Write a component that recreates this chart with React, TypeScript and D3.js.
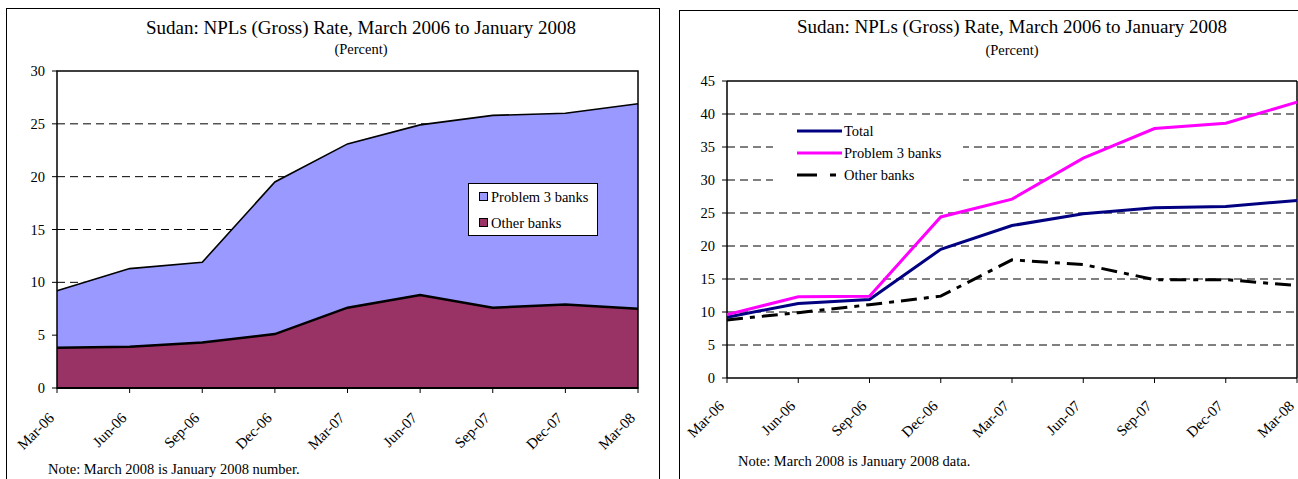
import React from "react";
import * as d3 from "d3";

// quarters on the x axis
const categories = ["Mar-06", "Jun-06", "Sep-06", "Dec-06", "Mar-07", "Jun-07", "Sep-07", "Dec-07", "Mar-08"];
// NPL rate, whole system
const totalRate = [9.2, 11.3, 11.9, 19.5, 23.1, 24.9, 25.8, 26.0, 26.9];
// left chart: contribution of the other banks to the total
const otherBanksShare = [3.8, 3.9, 4.3, 5.1, 7.6, 8.8, 7.6, 7.9, 7.5];
// right chart: own NPL rates of each group
const problem3Rate = [9.6, 12.3, 12.4, 24.4, 27.1, 33.3, 37.8, 38.6, 41.8];
const otherBanksRate = [8.8, 9.9, 11.1, 12.4, 17.9, 17.2, 14.9, 14.9, 14.0];

const leftTicks = [0, 5, 10, 15, 20, 25, 30];
const rightTicks = [0, 5, 10, 15, 20, 25, 30, 35, 40, 45];

const font = "'Liberation Serif', 'Times New Roman', serif";
const title = "Sudan: NPLs (Gross) Rate, March 2006 to January 2008";

const stackRows = categories.map((c, i) => ({
 cat: c,
 other: otherBanksShare[i],
 problem: totalRate[i] - otherBanksShare[i],
}));

const XLabels = ({ x, y, off }: { x: d3.ScalePoint<string>; y: number; off: number }) => (
 <g fontSize={15}>
  {categories.map((c) => (
   <g key={c}>
    <line x1={x(c)} x2={x(c)} y1={y} y2={y + 5} stroke="#000" />
    <text transform={`translate(${(x(c) as number) - 2},${y + off}) rotate(-45)`} textAnchor="end">
     {c}
    </text>
   </g>
  ))}
 </g>
);

const YLabels = ({ y, x, ticks }: { y: d3.ScaleLinear<number, number>; x: number; ticks: number[] }) => (
 <g fontSize={14.5}>
  {ticks.map((t) => (
   <g key={t}>
    <line x1={x - 5} x2={x} y1={y(t)} y2={y(t)} stroke="#000" />
    <text x={x - 12} y={y(t)} dy="0.35em" textAnchor="end">
     {t}
    </text>
   </g>
  ))}
 </g>
);

const LeftChart = () => {
 const x = d3.scalePoint<string>().domain(categories).range([57, 638]);
 const y = d3.scaleLinear().domain([0, 30]).range([388, 71]);
 const series = d3.stack<any>().keys(["other", "problem"])(stackRows);
 const area = d3
  .area<any>()
  .x((d) => x(d.data.cat) as number)
  .y0((d) => y(d[0]))
  .y1((d) => y(d[1]));
 const top = d3
  .line<any>()
  .x((d) => x(d.data.cat) as number)
  .y((d) => y(d[1]));
 const fills = ["#993366", "#9999FF"];
 const widths = [2.5, 1.6];

 return (
  <g>
   <rect x={6.5} y={8.5} width={653} height={490} fill="#fff" stroke="#000" />
   <text x={361} y={34} textAnchor="middle" fontSize={19}>{title}</text>
   <text x={361} y={54} textAnchor="middle" fontSize={14.5}>(Percent)</text>
   {leftTicks.filter((t) => t > 0 && t < 30).map((t) => (
    <line key={t} x1={57} x2={638} y1={y(t)} y2={y(t)} stroke="#000" strokeDasharray="8,5" />
   ))}
   {series.map((s, i) => (
    <path key={s.key} d={area(s) as string} fill={fills[i]} />
   ))}
   {series.map((s, i) => (
    <path key={s.key} d={top(s) as string} fill="none" stroke="#000" strokeWidth={widths[i]} />
   ))}
   <rect x={57} y={71} width={581} height={317} fill="none" stroke="#000" strokeWidth={1.5} />
   <line x1={57} x2={638} y1={388} y2={388} stroke="#000" strokeWidth={2} />
   <YLabels y={y} x={57} ticks={leftTicks} />
   <XLabels x={x} y={388} off={31} />
   <g fontSize={14.5}>
    <rect x={468.5} y={183.5} width={129} height={52} fill="#fff" stroke="#000" />
    <rect x={479.5} y={192.5} width={8} height={8} fill="#9999FF" stroke="#000" />
    <text x={491} y={197} dy="0.35em">Problem 3 banks</text>
    <rect x={479.5} y={218.5} width={8} height={8} fill="#993366" stroke="#000" />
    <text x={491} y={223} dy="0.35em">Other banks</text>
   </g>
   <text x={48} y={474} fontSize={14.5}>Note: March 2008 is January 2008 number.</text>
  </g>
 );
};

const RightChart = () => {
 const x = d3.scalePoint<string>().domain(categories).range([727, 1297]);
 const y = d3.scaleLinear().domain([0, 45]).range([378, 81]);
 const line = d3
  .line<number>()
  .x((_, i) => x(categories[i]) as number)
  .y((d) => y(d));
 const lines = [
  { name: "Total", values: totalRate, color: "#000080", dash: "none", key: "none" },
  { name: "Problem 3 banks", values: problem3Rate, color: "#FF00FF", dash: "none", key: "none" },
  { name: "Other banks", values: otherBanksRate, color: "#000", dash: "16,7,5,7", key: "20,13,6,13" },
 ];

 return (
  <g>
   <rect x={679.5} y={10.5} width={640} height={490} fill="#fff" stroke="#000" />
   <text x={1012} y={33} textAnchor="middle" fontSize={19}>{title}</text>
   <text x={1012} y={55} textAnchor="middle" fontSize={14.5}>(Percent)</text>
   {rightTicks.filter((t) => t > 0 && t < 45).map((t) => (
    <line key={t} x1={727} x2={1297} y1={y(t)} y2={y(t)} stroke="#000" strokeDasharray="8,5" />
   ))}
   <rect x={773} y={120} width={190} height={66} fill="#fff" />
   <line x1={727} x2={1297} y1={81} y2={81} stroke="#000" strokeWidth={1.5} />
   <line x1={1297} x2={1297} y1={81} y2={378} stroke="#000" strokeWidth={1.5} />
   <line x1={727} x2={727} y1={81} y2={378} stroke="#000" strokeWidth={1.5} />
   <line x1={727} x2={1297} y1={378} y2={378} stroke="#000" strokeWidth={1.5} />
   {lines.map((l) => (
    <path
     key={l.name}
     d={line(l.values) as string}
     fill="none"
     stroke={l.color}
     strokeWidth={3}
     strokeDasharray={l.dash}
    />
   ))}
   <YLabels y={y} x={727} ticks={rightTicks} />
   <XLabels x={x} y={378} off={29} />
   <g fontSize={14.5}>
    {lines.map((l, i) => (
     <g key={l.name}>
      <line
       x1={797}
       x2={842}
       y1={131 + i * 22}
       y2={131 + i * 22}
       stroke={l.color}
       strokeWidth={3}
       strokeDasharray={l.key}
      />
      <text x={844} y={131 + i * 22} dy="0.35em">{l.name}</text>
     </g>
    ))}
   </g>
   <text x={738} y={466} fontSize={14.5}>Note: March 2008 is January 2008 data.</text>
  </g>
 );
};

export default function App() {
 return (
  <svg
   width={1298}
   height={479}
   style={{ position: "absolute", left: 0, top: 0, background: "#fff" }}
   fontFamily={font}
  >
   <LeftChart />
   <RightChart />
  </svg>
 );
}
